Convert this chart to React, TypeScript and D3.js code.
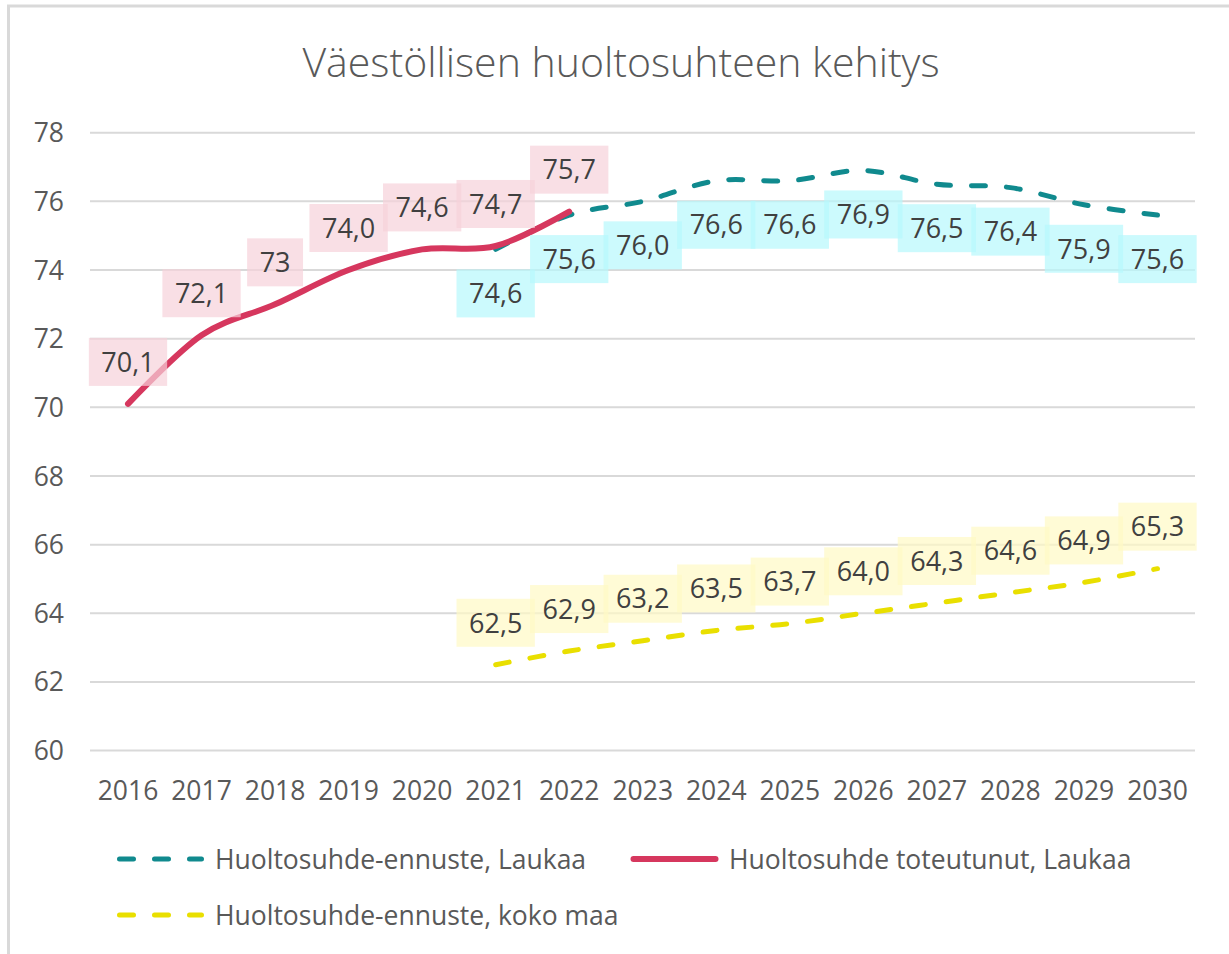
import React, { useEffect, useRef } from "react";
import * as d3 from "d3";

const years = ["2016","2017","2018","2019","2020","2021","2022","2023","2024","2025","2026","2027","2028","2029","2030"];
const actualYears = ["2016","2017","2018","2019","2020","2021","2022"];
const actualValues = [70.1, 72.1, 73.0, 74.0, 74.6, 74.7, 75.7];
const actualLabels = ["70,1", "72,1", "73", "74,0", "74,6", "74,7", "75,7"];
const forecastYears = ["2021","2022","2023","2024","2025","2026","2027","2028","2029","2030"];
const laukaaForecast = [74.6, 75.6, 76.0, 76.6, 76.6, 76.9, 76.5, 76.4, 75.9, 75.6];
const nationalForecast = [62.5, 62.9, 63.2, 63.5, 63.7, 64.0, 64.3, 64.6, 64.9, 65.3];
const yTicks = [60, 62, 64, 66, 68, 70, 72, 74, 76, 78];
const title = "Väestöllisen huoltosuhteen kehitys";
const legendLaukaaForecast = "Huoltosuhde-ennuste, Laukaa";
const legendActual = "Huoltosuhde toteutunut, Laukaa";
const legendNational = "Huoltosuhde-ennuste, koko maa";

const FONT = "'Open Sans', 'Noto Sans', sans-serif";
const RED = "#D6375E";
const TEAL = "#108A8E";
const YELLOW = "#E9DF00";

const fmt = (v: number) => v.toFixed(1).replace(".", ",");

export default function App() {
  const ref = useRef<SVGSVGElement | null>(null);

  useEffect(() => {
    const svg = d3.select(ref.current);
    svg.selectAll("*").remove();

    const W = 1229, H = 954;
    const x = d3.scalePoint<string>().domain(years).range([128, 1157.5]);
    const y = d3.scaleLinear().domain([60, 78]).range([750.6, 132.7]);

    svg.append("rect").attr("width", W).attr("height", H).attr("fill", "#fff");
    // border
    svg.append("line").attr("x1", 7).attr("x2", W).attr("y1", 6).attr("y2", 6)
      .attr("stroke", "#d9d9d9").attr("stroke-width", 3);
    svg.append("line").attr("x1", 8.5).attr("x2", 8.5).attr("y1", 5).attr("y2", H)
      .attr("stroke", "#d9d9d9").attr("stroke-width", 3);

    // title
    svg.append("text").attr("x", 621).attr("y", 77).attr("text-anchor", "middle")
      .attr("font-family", FONT).attr("font-size", 41).attr("font-weight", 300)
      .attr("fill", "#595959").text(title);

    // grid
    const g = svg.append("g");
    g.selectAll("line.grid").data(yTicks).join("line")
      .attr("x1", 90).attr("x2", 1195)
      .attr("y1", d => y(d)).attr("y2", d => y(d))
      .attr("stroke", "#d9d9d9").attr("stroke-width", 2);
    g.selectAll("text.ytick").data(yTicks).join("text")
      .attr("x", 64).attr("y", d => y(d)).attr("dy", "0.36em")
      .attr("text-anchor", "end").attr("font-family", FONT).attr("font-size", 26.5)
      .attr("fill", "#595959").text(d => String(d));
    g.selectAll("text.xtick").data(years).join("text")
      .attr("x", d => x(d)!).attr("y", 800)
      .attr("text-anchor", "middle").attr("font-family", FONT).attr("font-size", 26.5)
      .attr("fill", "#595959").text(d => d);

    const curve = d3.curveCardinal.tension(0);
    const line = d3.line<[string, number]>().x(d => x(d[0])!).y(d => y(d[1])).curve(curve);

    const teal = forecastYears.map((yr, i) => [yr, laukaaForecast[i]] as [string, number]);
    const yel = forecastYears.map((yr, i) => [yr, nationalForecast[i]] as [string, number]);
    const red = actualYears.map((yr, i) => [yr, actualValues[i]] as [string, number]);

    svg.append("path").attr("d", line(teal)!).attr("fill", "none").attr("stroke", TEAL)
      .attr("stroke-width", 5).attr("stroke-dasharray", "14 21").attr("stroke-linecap", "round");
    svg.append("path").attr("d", line(yel)!).attr("fill", "none").attr("stroke", YELLOW)
      .attr("stroke-width", 5).attr("stroke-dasharray", "14 21").attr("stroke-linecap", "round");
    svg.append("path").attr("d", line(red)!).attr("fill", "none").attr("stroke", RED)
      .attr("stroke-width", 6).attr("stroke-linecap", "round");

    // data labels
    type L = { yr: string; v: number; text: string; dy: number; fill: string };
    const labels: L[] = [
      ...forecastYears.map((yr, i) => ({ yr, v: laukaaForecast[i], text: fmt(laukaaForecast[i]), dy: 44, fill: "rgb(182,248,252)" })),
      ...forecastYears.map((yr, i) => ({ yr, v: nationalForecast[i], text: fmt(nationalForecast[i]), dy: -42, fill: "rgb(255,250,196)" })),
      ...actualYears.map((yr, i) => ({ yr, v: actualValues[i], text: actualLabels[i], dy: -42, fill: "rgb(246,210,218)" })),
    ];
    const lg = svg.append("g");
    labels.forEach(l => {
      const cx = x(l.yr)!;
      const cy = y(l.v) + l.dy;
      const r = lg.append("rect").attr("fill", l.fill).attr("fill-opacity", 0.7);
      const t = lg.append("text").attr("x", cx).attr("y", cy).attr("dy", "0.36em")
        .attr("text-anchor", "middle").attr("font-family", FONT).attr("font-size", 27)
        .attr("fill", "#404040").text(l.text);
      const w = (t.node() as SVGTextElement).getComputedTextLength() + 25;
      r.attr("x", cx - w / 2).attr("y", cy - 24).attr("width", w).attr("height", 48);
    });

    // legend
    const leg = svg.append("g");
    const items = [
      { x0: 117, x1: 204, y: 859, color: TEAL, dash: true, text: legendLaukaaForecast },
      { x0: 631, x1: 718, y: 859, color: RED, dash: false, text: legendActual },
      { x0: 117, x1: 204, y: 915, color: YELLOW, dash: true, text: legendNational },
    ];
    items.forEach(it => {
      leg.append("line").attr("x1", it.x0 + 2.5).attr("x2", it.x1 - 2.5).attr("y1", it.y).attr("y2", it.y)
        .attr("stroke", it.color).attr("stroke-width", it.dash ? 5 : 6).attr("stroke-linecap", "round")
        .attr("stroke-dasharray", it.dash ? "14 21" : null);
      leg.append("text").attr("x", it.x1 + 11).attr("y", it.y).attr("dy", "0.36em")
        .attr("font-family", FONT).attr("font-size", 26.5).attr("fill", "#595959").text(it.text);
    });
  }, []);

  return (
    <svg ref={ref} width={1229} height={954}
      style={{ position: "absolute", left: 0, top: 0, display: "block" }} />
  );
}
